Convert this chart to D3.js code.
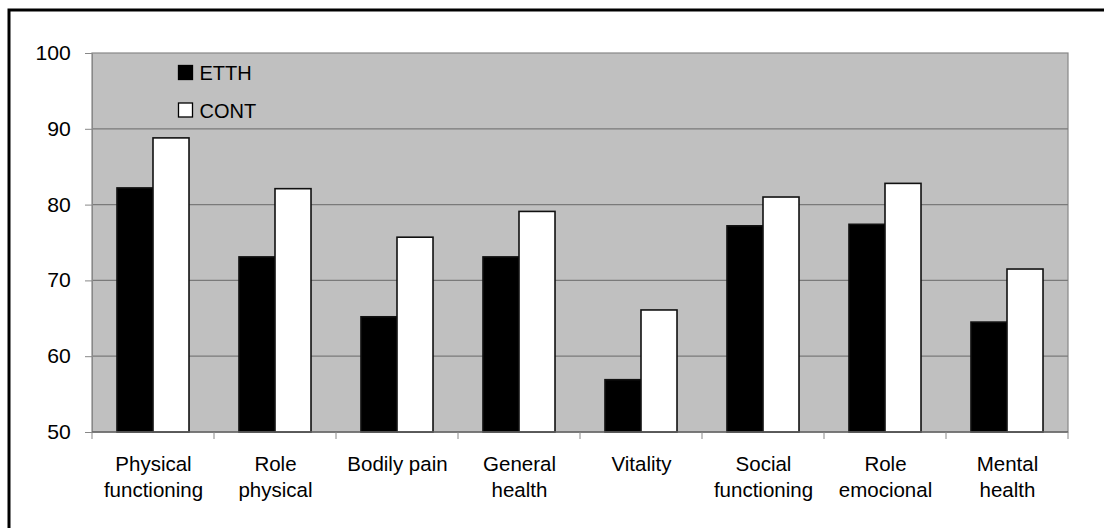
<!DOCTYPE html>
<html><head><meta charset="utf-8">
<script src="https://cdn.jsdelivr.net/npm/d3@7"></script>
<style>
html,body{margin:0;padding:0;background:#fff;}
svg text{font-family:"Liberation Sans",Arial,sans-serif;fill:#000;}
</style></head>
<body>
<svg id="chart" width="1104" height="528"></svg>
<script>
const categories = [["Physical","functioning"],["Role","physical"],["Bodily pain"],["General","health"],["Vitality"],["Social","functioning"],["Role","emocional"],["Mental","health"]];
const seriesNames = ["ETTH","CONT"];
const etth = [82.2, 73.1, 65.2, 73.1, 56.9, 77.2, 77.4, 64.5];
const cont = [88.8, 82.1, 75.7, 79.1, 66.1, 81.0, 82.8, 71.5];
const yTicks = [50, 60, 70, 80, 90, 100];
const colors = {"ETTH":"#000000","CONT":"#ffffff"};

const svg = d3.select("#chart");
const L = 92, R = 1068, T = 53, B = 432;

// outer frame
svg.append("rect").attr("x",9).attr("y",10).attr("width",1110).attr("height",540)
  .attr("fill","none").attr("stroke","#000").attr("stroke-width",3);

const keys = categories.map(c => c.join(" "));
const x0 = d3.scaleBand().domain(keys).range([L, R]).padding(0);
const x1 = d3.scaleBand().domain(seriesNames).range([0, x0.bandwidth()]).paddingInner(0).paddingOuter(0.694);
const y = d3.scaleLinear().domain([50, 100]).range([B, T]);

// plot area
svg.append("rect").attr("x",L).attr("y",T).attr("width",R-L).attr("height",B-T)
  .attr("fill","#c0c0c0").attr("stroke","#888").attr("stroke-width",1.2);

// gridlines
svg.append("g").selectAll("line").data(yTicks.filter(v => v>50 && v<100)).join("line")
  .attr("x1",L).attr("x2",R).attr("y1",d=>y(d)).attr("y2",d=>y(d))
  .attr("stroke","#7a7a7a").attr("stroke-width",1.2);

// bars
const data = keys.map((k,i) => ({k, vals:[{s:"ETTH",v:etth[i]},{s:"CONT",v:cont[i]}]}));
const g = svg.append("g").selectAll("g").data(data).join("g")
  .attr("transform", d => `translate(${x0(d.k)},0)`);
g.selectAll("rect").data(d => d.vals).join("rect")
  .attr("x", d => x1(d.s)).attr("width", x1.bandwidth())
  .attr("y", d => y(d.v)).attr("height", d => y(50) - y(d.v))
  .attr("fill", d => colors[d.s]).attr("stroke","#111").attr("stroke-width",1.6);

// y axis
const yAxis = d3.axisLeft(y).tickValues(yTicks).tickSize(7).tickPadding(14).tickFormat(d3.format("d"));
const ya = svg.append("g").attr("transform",`translate(${L},0)`).call(yAxis);
ya.select(".domain").attr("stroke","#888");
ya.selectAll(".tick line").attr("stroke","#888");
ya.selectAll("text").attr("font-size","20px").attr("fill","#000")
  .attr("transform","scale(1.06,1)").attr("dx","1");

// x axis
const xa = svg.append("g").attr("transform",`translate(0,${B})`);
xa.append("line").attr("x1",L).attr("x2",R).attr("y1",0).attr("y2",0).attr("stroke","#666").attr("stroke-width",1.5);
const bounds = keys.map(k => x0(k)).concat([R]);
xa.selectAll("line.tk").data(bounds).join("line").attr("class","tk")
  .attr("x1",d=>d).attr("x2",d=>d).attr("y1",0).attr("y2",7).attr("stroke","#888");
xa.selectAll("text.lbl").data(categories).join("text").attr("class","lbl")
  .attr("x",(d,i)=>x0(keys[i]) + x0.bandwidth()/2 + 0.5)
  .attr("text-anchor","middle").attr("font-size","20.5px")
  .each(function(d){
    const t = d3.select(this);
    d.forEach((line,j) => t.append("tspan").attr("x", t.attr("x")).attr("y", 39 + j*26).text(line));
  });

// legend
const leg = svg.append("g");
seriesNames.forEach((s,i) => {
  leg.append("rect").attr("x",178.5).attr("y",65.5 + i*37.5).attr("width",14).attr("height",14)
    .attr("fill",colors[s]).attr("stroke","#000").attr("stroke-width",1.3);
  leg.append("text").attr("x",199.5).attr("y",80 + i*37.5).attr("font-size","20px").text(s);
});
</script>
</body></html>
